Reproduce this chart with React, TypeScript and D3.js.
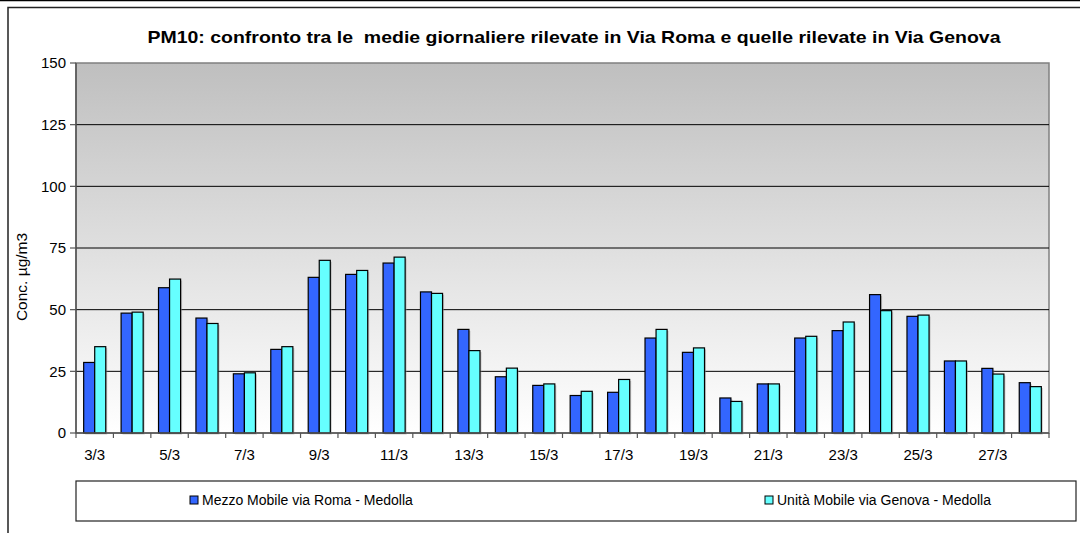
import React from "react";
import * as d3 from "d3";

const categories = ["3/3","4/3","5/3","6/3","7/3","8/3","9/3","10/3","11/3","12/3","13/3","14/3","15/3","16/3","17/3","18/3","19/3","20/3","21/3","22/3","23/3","24/3","25/3","26/3","27/3","28/3"];
const viaRoma = [28.6,48.6,58.9,46.6,24.0,33.9,63.1,64.3,68.9,57.2,42.0,22.8,19.3,15.2,16.5,38.5,32.7,14.2,19.9,38.5,41.5,56.1,47.3,29.2,26.2,20.4];
const viaGenova = [35.0,49.0,62.4,44.4,24.4,35.0,70.0,65.9,71.3,56.6,33.4,26.3,19.9,16.9,21.7,42.0,34.5,12.8,19.9,39.2,45.0,49.6,47.8,29.2,23.9,18.8];
const yTicks = [0,25,50,75,100,125,150];
const seriesNames = ["Mezzo Mobile via Roma - Medolla","Unità Mobile via Genova - Medolla"];
const seriesColors = ["#3366ff","#66ffff"];
const title = "PM10: confronto tra le\u00a0 medie giornaliere rilevate in Via Roma e quelle rilevate in Via Genova";

const W = 1080, H = 533;
const plot = { left: 76, right: 1049, top: 63, bottom: 433 };
const FONT = "'Liberation Sans', Arial, sans-serif";

export default function App() {
  const x = d3.scaleBand<string>().domain(categories).range([plot.left, plot.right]).paddingInner(0.41).paddingOuter(0.205);
  const xs = d3.scaleBand<string>().domain(["0","1"]).range([0, x.bandwidth()]);
  const y = d3.scaleLinear().domain([0,150]).range([plot.bottom, plot.top]);
  const step = x.step();
  const series = [viaRoma, viaGenova];

  return (
    <div style={{ position: "fixed", left: 0, top: 0 }}>
      <svg width={W} height={H} style={{ display: "block", background: "#fff" }} fontFamily={FONT}>
        <defs>
          <linearGradient id="bg" x1="0" y1="0" x2="0" y2="1">
            <stop offset="0" stopColor="#bfbfbf" />
            <stop offset="1" stopColor="#ffffff" />
          </linearGradient>
        </defs>
        <line x1={0} x2={W} y1={0.5} y2={0.5} stroke="#000" strokeWidth={1.5} />
        <rect x={8} y={7.5} width={W} height={H} fill="none" stroke="#222" strokeWidth={1.5} />
        <text x={574} y={43} textAnchor="middle" fontWeight="bold" fontSize={17} textLength={853} lengthAdjust="spacingAndGlyphs" fill="#000">{title}</text>

        <rect x={plot.left} y={plot.top} width={plot.right - plot.left} height={plot.bottom - plot.top} fill="url(#bg)" stroke="#808080" strokeWidth={1.5} />
        {yTicks.filter(t => t > 0 && t < 150).map(t => (
          <line key={"g"+t} x1={plot.left} x2={plot.right} y1={y(t)} y2={y(t)} stroke="#000" strokeWidth={1} />
        ))}
        {categories.map((c, i) => (
          <g key={c}>
            {series.map((s, k) => {
              const bx = (x(c) as number) + (xs(String(k)) as number);
              return (
                <g key={k}>
                  <rect x={bx + 1.5} y={y(s[i]) + 1.5} width={xs.bandwidth()} height={y(0) - y(s[i])} fill="#999" opacity={0.5} />
                  <rect x={bx} y={y(s[i])} width={xs.bandwidth()} height={y(0) - y(s[i])} fill={seriesColors[k]} stroke="#000" strokeWidth={1.2} />
                </g>
              );
            })}
          </g>
        ))}
        <line x1={plot.left} x2={plot.left} y1={plot.top} y2={plot.bottom} stroke="#555" strokeWidth={1.5} />
        <line x1={plot.left} x2={plot.right} y1={plot.bottom} y2={plot.bottom} stroke="#555" strokeWidth={1.5} />
        {yTicks.map(t => (
          <g key={"y"+t}>
            <line x1={plot.left - 6} x2={plot.left} y1={y(t)} y2={y(t)} stroke="#555" strokeWidth={1.2} />
            <text x={plot.left - 10} y={y(t)} dy="0.35em" textAnchor="end" fontSize={15} fill="#000">{t}</text>
          </g>
        ))}
        {categories.map((c) => (
          <line key={"xt"+c} x1={(x(c) as number) - step * 0.205} x2={(x(c) as number) - step * 0.205} y1={plot.bottom} y2={plot.bottom + 5} stroke="#555" strokeWidth={1.2} />
        ))}
        <line x1={plot.right} x2={plot.right} y1={plot.bottom} y2={plot.bottom + 5} stroke="#555" strokeWidth={1.2} />
        {categories.map((c, i) => i % 2 === 0 ? (
          <text key={"xl"+c} x={(x(c) as number) + x.bandwidth() / 2} y={460} textAnchor="middle" fontSize={15} fill="#000">{c}</text>
        ) : null)}
        <text transform="translate(27,277) rotate(-90)" textAnchor="middle" fontSize={15.5} fill="#000">Conc. µg/m3</text>

        <rect x={76} y={481} width={1000} height={40} fill="#fff" stroke="#222" strokeWidth={1.2} />
        {seriesNames.map((n, k) => {
          const lx = k === 0 ? 190 : 765;
          return (
            <g key={n}>
              <rect x={lx} y={496} width={8} height={8} fill={seriesColors[k]} stroke="#000" strokeWidth={1} />
              <text x={lx + 12} y={505} fontSize={14} fill="#000">{n}</text>
            </g>
          );
        })}
      </svg>
    </div>
  );
}
